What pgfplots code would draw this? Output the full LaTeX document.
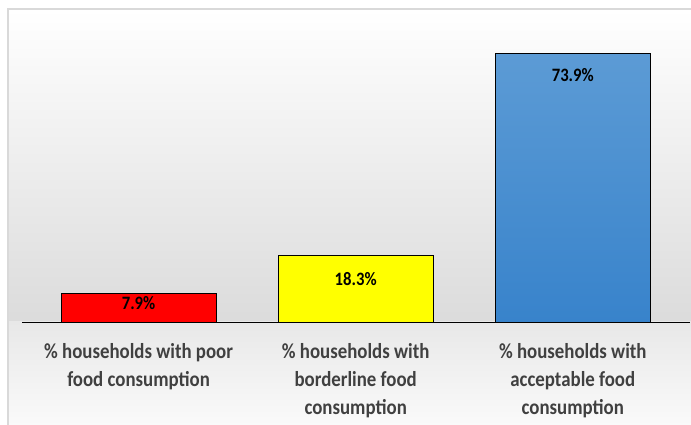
\documentclass[border=0pt]{standalone}
\usepackage{pgfplots}
\pgfplotsset{compat=1.18}
\usepackage{fontspec}
\setmainfont{Carlito}
\newfontfamily\labfont[FakeStretch=0.88]{Carlito}
\definecolor{barred}{RGB}{255,0,0}
\definecolor{baryellow}{RGB}{255,255,0}
\definecolor{bluetop}{RGB}{92,155,213}
\definecolor{bluebot}{RGB}{56,131,203}
\definecolor{labgray}{RGB}{64,64,64}
\definecolor{bordergray}{RGB}{217,217,217}
\begin{document}
\begin{tikzpicture}
\useasboundingbox (0,0) rectangle (691bp,425bp);
\shade[top color=white, bottom color=black!14] (8bp,103bp) rectangle (691bp,416bp);
\shade[top color=black!9, bottom color=black!2] (8bp,0bp) rectangle (691bp,103bp);
\draw[bordergray, line width=1.3bp] (8bp,-3bp) -- (8bp,416bp) -- (696bp,416bp);
\begin{axis}[
  at={(22bp,103bp)}, anchor=south west,
  scale only axis, width=668bp, height=291bp,
  xmin=-0.537, xmax=2.54, ymin=0, ymax=80,
  axis y line=none, axis x line*=bottom,
  x axis line style={-, black, line width=0.9bp},
  xtick={0,1,2}, major tick length=0pt,
  xticklabels={{\% households with poor\\food consumption},{\% households with\\borderline food\\consumption},{\% households with\\acceptable food\\consumption}},
  xticklabel style={align=center, text=labgray, font=\labfont\bfseries\fontsize{21.5}{28}\selectfont, yshift=-18bp},
  ybar, bar width=0.714, bar shift=0pt,
  nodes near coords={\pgfmathprintnumber[fixed,precision=1,fixed zerofill,assume math mode=true]{\pgfplotspointmeta}\%},
  every node near coord/.append style={anchor=center, text=black, font=\labfont\bfseries\fontsize{19}{22}\selectfont},
  clip=false,
]
\addplot[bar shift=0pt, fill=barred, draw=black, line width=0.9bp,
  every node near coord/.append style={yshift=-10bp}] coordinates {(0,7.9)};
\addplot[bar shift=0pt, fill=baryellow, draw=black, line width=0.9bp,
  every node near coord/.append style={yshift=-24bp}] coordinates {(1,18.3)};
\addplot[bar shift=0pt, top color=bluetop, bottom color=bluebot, draw=black, line width=0.9bp,
  every node near coord/.append style={yshift=-22bp}] coordinates {(2,73.9)};
\end{axis}
\end{tikzpicture}
\end{document}
